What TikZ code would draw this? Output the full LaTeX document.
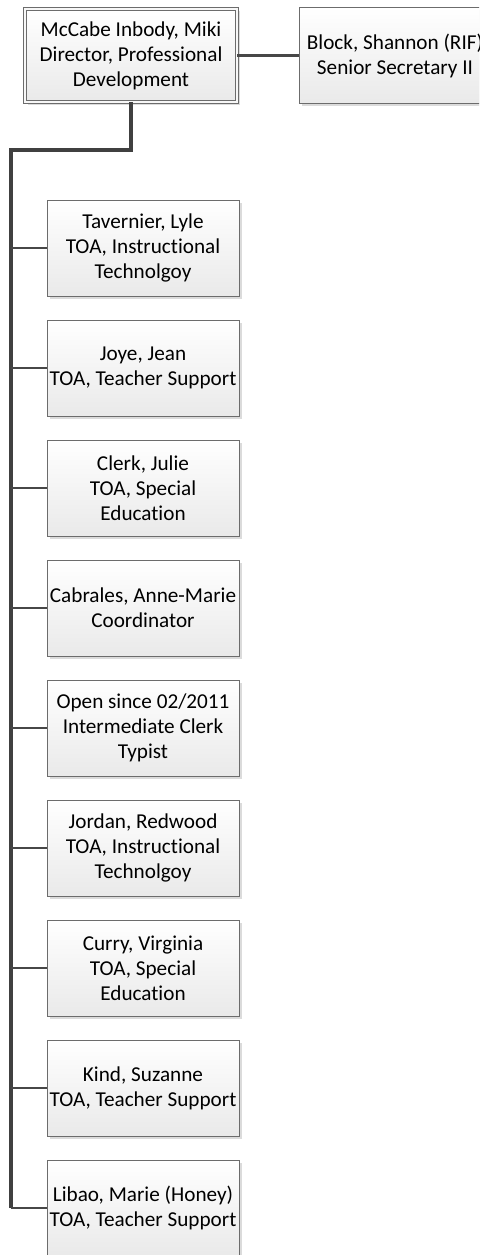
\documentclass[tikz,border=0pt]{standalone}
\usepackage{fontspec}
\setmainfont[Ligatures=NoCommon]{Carlito}
\usetikzlibrary{calc,shadows}

\tikzset{
  person/.style={draw=gray!85!black,line width=0.8pt,top color=white,bottom color=gray!17,
    minimum width=192pt,minimum height=96pt,inner sep=0pt,align=center,
    font=\fontsize{21.2}{25}\selectfont,
    drop shadow={shadow xshift=2.5pt,shadow yshift=-2.5pt,fill=black!14,opacity=1}},
  head/.style={person,minimum width=212pt,minimum height=93pt,double=white!94!gray,double distance=2.5pt},
  trunk/.style={line width=3.8pt,draw=black!75},
  branch/.style={line width=2.6pt,draw=black!72}
}

\begin{document}
\begin{tikzpicture}[x=1pt,y=-1pt]
        \clip (0,0) rectangle (479,1255);
        \useasboundingbox (0,0) rectangle (479,1255);
        \node[head] (dir) at (131,55.5) {McCabe Inbody, Miki\\Director, Professional\\Development};
        \node[person] (sec) at (395,55.5) {Block, Shannon (RIF)\\Senior Secretary II};
        \node[person] (tav) at (143,248) {Tavernier, Lyle\\TOA, Instructional\\Technolgoy};
        \node[person] (joy) at (143,368) {Joye, Jean\\TOA, Teacher Support};
        \node[person] (cle) at (143,488) {Clerk, Julie\\TOA, Special\\Education};
        \node[person] (cab) at (143,608) {Cabrales, Anne-Marie\\Coordinator};
        \node[person] (opn) at (143,728) {Open since 02/2011\\Intermediate Clerk\\Typist};
        \node[person] (jor) at (143,848) {Jordan, Redwood\\TOA, Instructional\\Technolgoy};
        \node[person] (cur) at (143,968) {Curry, Virginia\\TOA, Special\\Education};
        \node[person] (kin) at (143,1088) {Kind, Suzanne\\TOA, Teacher Support};
        \node[person] (lib) at (143,1208) {Libao, Marie (Honey)\\TOA, Teacher Support};
        \coordinate (bend) at (11,150);
        \draw[branch] (dir.east) -- (sec.west);
        \draw[trunk] (dir.south) |- (bend) -- (bend |- lib.west);
        \draw[branch] (bend |- tav.west) -- (tav.west);
        \draw[branch] (bend |- joy.west) -- (joy.west);
        \draw[branch] (bend |- cle.west) -- (cle.west);
        \draw[branch] (bend |- cab.west) -- (cab.west);
        \draw[branch] (bend |- opn.west) -- (opn.west);
        \draw[branch] (bend |- jor.west) -- (jor.west);
        \draw[branch] (bend |- cur.west) -- (cur.west);
        \draw[branch] (bend |- kin.west) -- (kin.west);
        \draw[branch] (bend |- lib.west) -- (lib.west);
    \end{tikzpicture}
\end{document}
